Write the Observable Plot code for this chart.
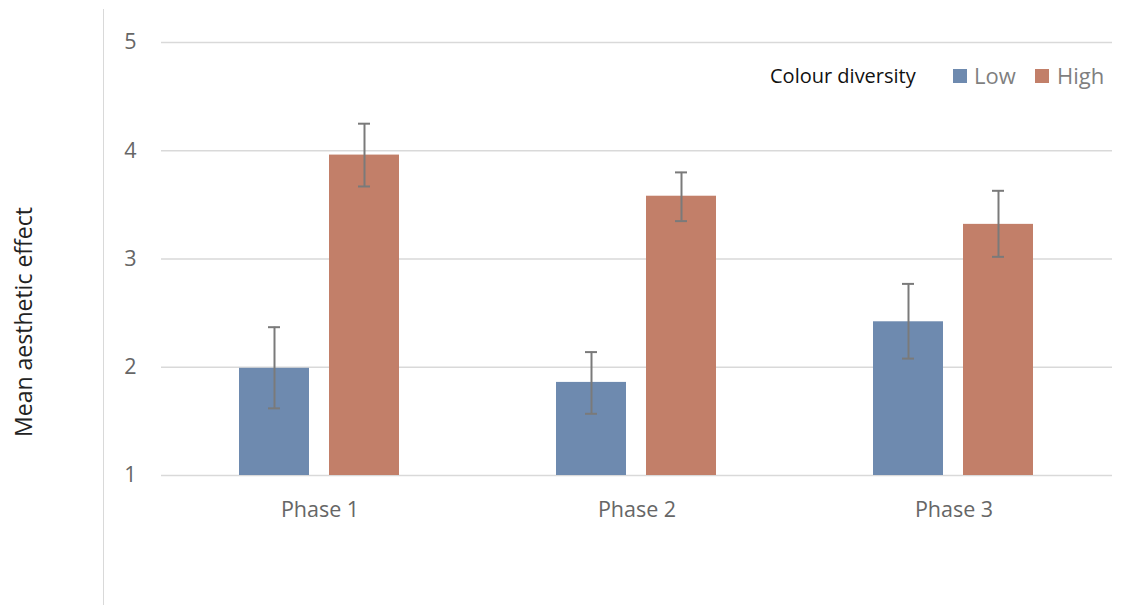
<!DOCTYPE html>
<html><head><meta charset="utf-8">
<script src="https://cdn.jsdelivr.net/npm/d3@7"></script>
<script src="https://cdn.jsdelivr.net/npm/@observablehq/plot@0.6"></script>
<style>
body{margin:0;background:#fff;}
#wrap{position:relative;width:1135px;height:605px;font-family:"Open Sans",sans-serif;overflow:hidden;}
#frame{position:absolute;left:103px;top:9px;height:600px;border-left:1.5px solid #d9d9d9;}
#ylabel{position:absolute;left:23px;top:322px;transform:translate(-50%,-50%) rotate(-90deg);white-space:nowrap;font-size:23px;color:#222;}
#legend{position:absolute;top:0;left:0;}
#legend span{position:absolute;white-space:nowrap;transform:translateY(-50%);top:76px;line-height:1;}
#legend .title{font-size:20px;color:#111;}
#legend .sw{width:14px;height:14px;display:inline-block;}
#legend .lab{font-size:22px;color:#7f7f7f;top:75px;}
svg{position:absolute;left:0;top:0;}
</style></head><body><div id="wrap"><div id="frame"></div></div>
<script>
const phases = ["Phase 1", "Phase 2", "Phase 3"];
const groups = ["Low", "High"];
const lowMeans = [1.99, 1.86, 2.42];
const lowLo = [1.62, 1.57, 2.08];
const lowHi = [2.37, 2.14, 2.77];
const highMeans = [3.96, 3.58, 3.32];
const highLo = [3.67, 3.35, 3.02];
const highHi = [4.25, 3.80, 3.63];
const yTicks = [1, 2, 3, 4, 5];
const yLabel = "Mean aesthetic effect";
const legendTitle = "Colour diversity";
const colors = ["#6e8aaf", "#c27f69"];

const data = [];
phases.forEach((p, i) => {
  data.push({phase: p, group: "Low", mean: lowMeans[i], lo: lowLo[i], hi: lowHi[i]});
  data.push({phase: p, group: "High", mean: highMeans[i], lo: highLo[i], hi: highHi[i]});
});

const chart = Plot.plot({
  width: 1135, height: 605,
  marginLeft: 160, marginRight: 23, marginTop: 42, marginBottom: 130,
  style: {fontFamily: "'Open Sans', sans-serif", fontSize: "21.5px", background: "transparent", color: "#595959"},
  fx: {domain: phases, padding: 0, label: null},
  x: {domain: groups, paddingInner: 0.22, paddingOuter: 0.853, axis: null},
  y: {domain: [1, 5]},
  color: {domain: groups, range: colors},
  marks: [
    Plot.gridY(yTicks, {stroke: "#d9d9d9", strokeOpacity: 1, strokeWidth: 1.5}),
    Plot.axisY(yTicks, {tickSize: 0, tickPadding: 25, tickFormat: d3.format("d"), label: null, fill: "#666"}),
    Plot.axisFx({anchor: "bottom", tickSize: 0, tickPadding: 26, label: null, fill: "#666"}),
    Plot.barY(data, {fx: "phase", x: "group", y1: 1, y2: "mean", fill: "group"}),
    Plot.ruleX(data, {fx: "phase", x: "group", y1: "lo", y2: "hi", stroke: "#7a7a7a", strokeWidth: 2}),
    Plot.tickY(data, {fx: "phase", x: "group", y: "lo", stroke: "#7a7a7a", strokeWidth: 2, insetLeft: 29, insetRight: 29}),
    Plot.tickY(data, {fx: "phase", x: "group", y: "hi", stroke: "#7a7a7a", strokeWidth: 2, insetLeft: 29, insetRight: 29})
  ]
});
const wrap = document.getElementById("wrap");
wrap.appendChild(chart);

const yl = document.createElement("div");
yl.id = "ylabel"; yl.textContent = yLabel; wrap.appendChild(yl);

const lg = document.createElement("div");
lg.id = "legend";
const t = document.createElement("span"); t.className = "title"; t.textContent = legendTitle; t.style.left = "770px"; lg.appendChild(t);
const swLeft = [953, 1035], labLeft = [974, 1057];
groups.forEach((g, i) => {
  const s = document.createElement("span"); s.className = "sw"; s.style.background = colors[i]; s.style.left = swLeft[i] + "px"; lg.appendChild(s);
  const l = document.createElement("span"); l.className = "lab"; l.textContent = g; l.style.left = labLeft[i] + "px"; lg.appendChild(l);
});
wrap.appendChild(lg);
</script></body></html>
